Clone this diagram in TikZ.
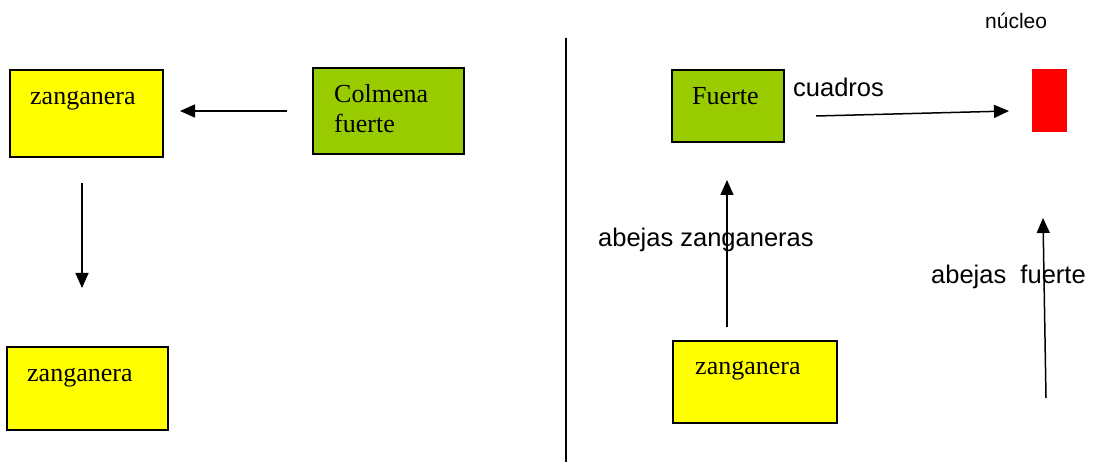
\documentclass[tikz,border=0pt]{standalone}
\usepackage{fontspec}
\setmainfont{Liberation Serif}
\setsansfont{Liberation Sans}
\usetikzlibrary{arrows.meta}
\definecolor{yel}{HTML}{FFFF00}
\definecolor{grn}{HTML}{99CC00}
\definecolor{rd}{HTML}{FF0000}
\begin{document}
\begin{tikzpicture}[x=1pt,y=-1pt,
  box/.style={draw=black,line width=1.5pt,anchor=north west,inner sep=0pt,outer sep=0pt},
  serif/.style={anchor=base west,inner sep=0pt,font=\fontsize{26}{30}\selectfont},
  sans/.style={anchor=base west,inner sep=0pt,font=\sffamily\fontsize{25.5}{29}\selectfont},
  small/.style={anchor=base west,inner sep=0pt,font=\sffamily\fontsize{21}{25}\selectfont},
  arr/.style={line width=1.5pt,-{Triangle[length=15pt,width=13pt]}}]
\useasboundingbox (0,0) rectangle (1093,462);

% boxes
\node[box,fill=yel,minimum width=153pt,minimum height=87pt] (zl1) at (10,70) {};
\node[box,fill=grn,minimum width=151pt,minimum height=86pt] (cf) at (313,68) {};
\node[box,fill=yel,minimum width=161pt,minimum height=83pt] (zl2) at (7,347) {};
\node[box,fill=grn,minimum width=112pt,minimum height=72pt] (fu) at (672,70) {};
\node[box,fill=yel,minimum width=164pt,minimum height=82pt] (zr) at (673,341) {};
\node[anchor=north west,inner sep=0pt,fill=rd,minimum width=35pt,minimum height=63pt] (nuc) at (1032,69) {};

% texts
\node[serif] (t1) at (30,105) {zanganera};
\node[serif] (t2) at (334,103) {Colmena};
\node[serif] (t3) at (334,133) {fuerte};
\node[serif] (t4) at (27,382) {zanganera};
\node[serif] (t5) at (692,105) {Fuerte};
\node[serif] (t6) at (695,375) {zanganera};
\node[sans] (t7) at (793,97) {cuadros};
\node[small] (t8) at (985,29) {núcleo};
\node[sans] (t9) at (598,247) {abejas zanganeras};
\node[sans] (t10) at (931,284) {abejas\ \ fuerte};

% connector end points
\coordinate (a1s) at (287,111); \coordinate (a1e) at (180,111);
\coordinate (a2s) at (82,183);  \coordinate (a2e) at (82,288);
\coordinate (a3s) at (727,327); \coordinate (a3e) at (727,180);
\coordinate (a4s) at (816,116); \coordinate (a4e) at (1009,111);
\coordinate (a5s) at (1046,398); \coordinate (a5e) at (1043,218);
\coordinate (dvt) at (566,38);  \coordinate (dvb) at (566,462);

\draw[arr] (a1s) -- (a1e);
\draw[arr] (a2s) -- (a2e);
\draw[arr] (a3s) -- (a3e);
\draw[arr] (a4s) -- (a4e);
\draw[arr] (a5s) -- (a5e);
\draw[line width=1.5pt] (dvt) -- (dvb);
\end{tikzpicture}
\end{document}
